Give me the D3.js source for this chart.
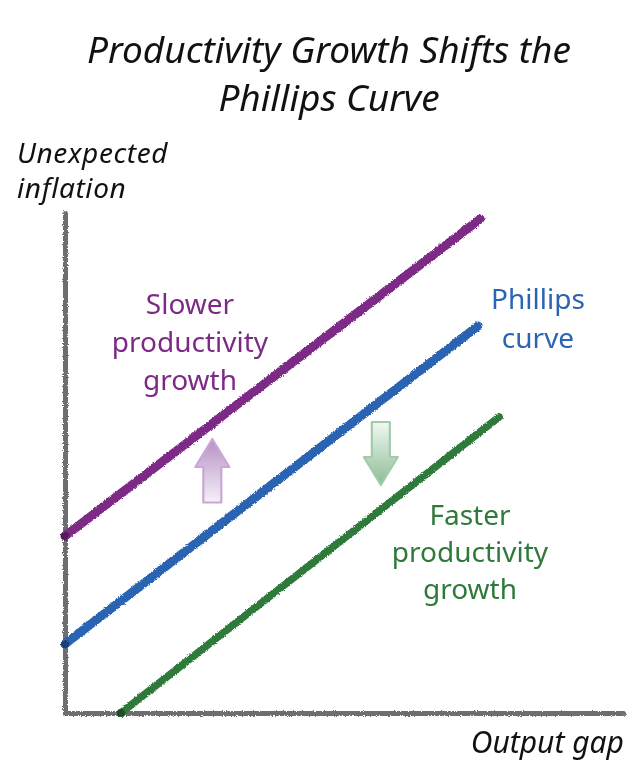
<!DOCTYPE html>
<html lang="en">
<head>
  <meta charset="UTF-8">
  <title>Productivity Growth Shifts the Phillips Curve</title>
  <script src="https://cdnjs.cloudflare.com/ajax/libs/d3/7.8.5/d3.min.js"></script>
  <style>
    html, body { margin: 0; padding: 0; background: #fff; }
    svg text { font-family: "Noto Sans", "DejaVu Sans", sans-serif; }
  </style>
</head>
<body>
  <svg id="chart" width="634" height="774"></svg>
  <script>
    //
    // Data (chart units: output gap 0..10, unexpected inflation 0..10)
    //
    var curveNames = ['Slower productivity growth', 'Phillips curve', 'Faster productivity growth']
    var curveX0 = [0, 0, 1.0]
    var curveY0 = [3.54, 1.38, 0]
    var curveX1 = [7.44, 7.40, 7.78]
    var curveY1 = [9.88, 7.74, 5.92]
    var curveColors = ['#7d2a87', '#2a64b2', '#2f7a3b']

    // shift arrows: x, from y, to y
    var arrowX = [2.64, 5.66]
    var arrowFrom = [4.21, 5.82]
    var arrowTo = [5.48, 4.56]

    var titleLines = ['Productivity Growth Shifts the', 'Phillips Curve']
    var yTitleLines = ['Unexpected', 'inflation']
    var xTitle = 'Output gap'
    var labelSlower = ['Slower', 'productivity', 'growth']
    var labelPhillips = ['Phillips', 'curve']
    var labelFaster = ['Faster', 'productivity', 'growth']

    //
    // Setup
    //
    var svg = d3.select('#chart')
    var x = d3.scaleLinear().domain([0, 10]).range([65, 623])
    var y = d3.scaleLinear().domain([0, 10]).range([713, 213])

    var defs = svg.append('defs')
    var rough = defs.append('filter').attr('id', 'rough')
      .attr('x', '-5%').attr('y', '-5%').attr('width', '110%').attr('height', '110%')
    rough.append('feTurbulence').attr('type', 'fractalNoise')
      .attr('baseFrequency', 0.9).attr('numOctaves', 2).attr('seed', 3).attr('result', 'noise')
    rough.append('feDisplacementMap').attr('in', 'SourceGraphic').attr('in2', 'noise')
      .attr('scale', 3.2).attr('xChannelSelector', 'R').attr('yChannelSelector', 'G')

    var gradUp = defs.append('linearGradient').attr('id', 'gradUp')
      .attr('x1', 0).attr('y1', 0).attr('x2', 0).attr('y2', 1)
    gradUp.append('stop').attr('offset', '0%').attr('stop-color', '#b690c4')
    gradUp.append('stop').attr('offset', '100%').attr('stop-color', '#f6f0f8')
    var gradDown = defs.append('linearGradient').attr('id', 'gradDown')
      .attr('x1', 0).attr('y1', 0).attr('x2', 0).attr('y2', 1)
    gradDown.append('stop').attr('offset', '0%').attr('stop-color', '#f2f8f3')
    gradDown.append('stop').attr('offset', '100%').attr('stop-color', '#8cbd96')

    //
    // Axes (domain lines only)
    //
    var axisG = svg.append('g').attr('filter', 'url(#rough)')
    axisG.append('g').attr('transform', 'translate(0,' + y(0) + ')')
      .call(d3.axisBottom(x).tickValues([]).tickSizeOuter(0))
    axisG.append('g').attr('transform', 'translate(' + x(0) + ',0)')
      .call(d3.axisLeft(y).tickValues([]).tickSizeOuter(0))
    axisG.selectAll('.domain').attr('stroke', '#6e6e70').attr('stroke-width', 5)
      .attr('stroke-linecap', 'round')

    //
    // Curves
    //
    var line = d3.line().x(function (d) { return x(d[0]) }).y(function (d) { return y(d[1]) })
    var curves = curveNames.map(function (name, i) {
      return { name: name, color: curveColors[i], pts: [[curveX0[i], curveY0[i]], [curveX1[i], curveY1[i]]] }
    })

    var curveG = svg.append('g').attr('filter', 'url(#rough)')
    curveG.selectAll('path.curve').data(curves).enter().append('path')
      .attr('class', 'curve')
      .attr('d', function (d) { return line(d.pts) })
      .attr('fill', 'none')
      .attr('stroke', function (d) { return d.color })
      .attr('stroke-width', function (d, i) { return i === 2 ? 7.5 : 9 })
      .attr('stroke-linecap', 'round')
    curveG.selectAll('circle.start').data(curves).enter().append('circle')
      .attr('class', 'start')
      .attr('cx', function (d) { return x(d.pts[0][0]) })
      .attr('cy', function (d) { return y(d.pts[0][1]) })
      .attr('r', 4)
      .attr('fill', function (d) { return d3.color(d.color).darker(1.2) })

    //
    // Shift arrows
    //
    function arrowPath(cx, yFrom, yTo) {
      var dir = yTo < yFrom ? -1 : 1
      var head = 28, hw = 17, sw = 9
      var neck = yTo - dir * head
      return 'M' + (cx - sw) + ',' + yFrom +
        'L' + (cx - sw) + ',' + neck +
        'L' + (cx - hw) + ',' + neck +
        'L' + cx + ',' + yTo +
        'L' + (cx + hw) + ',' + neck +
        'L' + (cx + sw) + ',' + neck +
        'L' + (cx + sw) + ',' + yFrom + 'Z'
    }
    var arrowFills = ['url(#gradUp)', 'url(#gradDown)']
    var arrowStrokes = ['#c9a7d5', '#a3cbaa']
    arrowX.forEach(function (ax, i) {
      svg.append('path')
        .attr('d', arrowPath(x(ax), y(arrowFrom[i]), y(arrowTo[i])))
        .attr('fill', arrowFills[i])
        .attr('stroke', arrowStrokes[i])
        .attr('stroke-width', 2.2)
        .attr('stroke-linejoin', 'round')
    })

    //
    // Text
    //
    function multiline(lines, px, py, lh, anchor, color, size, style) {
      var t = svg.append('text')
        .attr('x', px).attr('y', py)
        .attr('text-anchor', anchor)
        .attr('fill', color)
        .attr('font-size', size)
        .attr('font-style', style || 'normal')
      lines.forEach(function (s, i) {
        t.append('tspan').attr('x', px).attr('y', py + i * lh).text(s)
      })
      return t
    }

    multiline(titleLines, 329, 63, 48, 'middle', '#111', 37, 'italic')
    multiline(yTitleLines, 17, 163, 35, 'start', '#111', 28, 'italic')
      .attr('letter-spacing', 0.6)
    multiline([xTitle], 624, 753, 0, 'end', '#111', 30, 'italic')

    multiline(labelSlower, 190, 314, 38, 'middle', curveColors[0], 28)
    multiline(labelPhillips, 538, 309, 39, 'middle', curveColors[1], 28)
    multiline(labelFaster, 470, 525, 37, 'middle', curveColors[2], 28)
  </script>
</body>
</html>
